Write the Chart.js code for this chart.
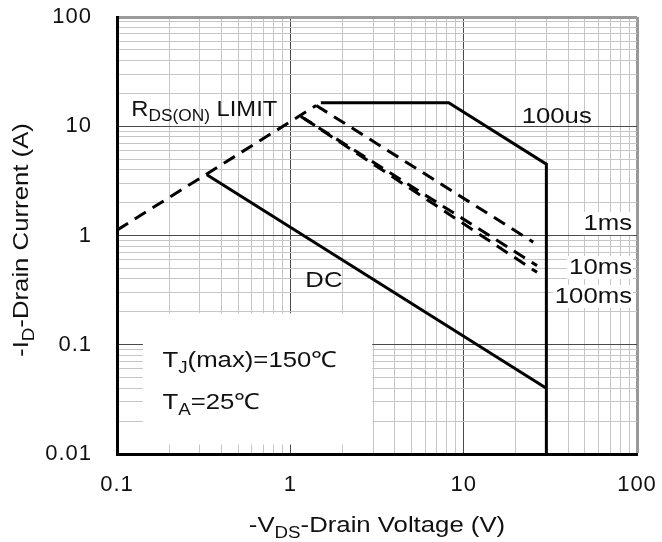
<!DOCTYPE html>
<html>
<head>
<meta charset="utf-8">
<script src="https://cdn.jsdelivr.net/npm/chart.js@4.4.1/dist/chart.umd.min.js"></script>
<style>
  html, body { margin: 0; padding: 0; background: #fff; }
  #soa { display: block; }
</style>
</head>
<body>
<canvas id="soa" width="662" height="542"></canvas>
<script>
// eixos (log-log)
const xDecades = [0.1, 1, 10, 100];
const yDecades = [0.01, 0.1, 1, 10, 100];
const xTickLabels = ['0.1', '1', '10', '100'];
const yTickLabels = ['0.01', '0.1', '1', '10', '100'];
const minorSteps = [1, 2, 3, 4, 5, 6, 7, 8, 9];

// curvas: -VDS (V) / -ID (A)
const rdsV = [0.1, 1.41];
const rdsI = [1.12, 15.5];
const us100V = [1.5, 8.2, 30, 30];
const us100I = [16.4, 16.4, 4.5, 0.01];
const ms1V = [1.41, 25.2];
const ms1I = [15.5, 0.87];
const ms10V = [1.15, 26.5];
const ms10I = [12.3, 0.53];
const ms100V = [1.2, 26.5];
const ms100I = [11.8, 0.46];
const dcV = [0.33, 30];
const dcI = [3.6, 0.04];

const FONT = '"Liberation Sans", Arial, sans-serif';
const STRETCH = 1.17; // o texto do original e mais largo que o Arial

function buildTicks(decades) {
  const out = [];
  decades.forEach((d, i) => {
    if (i === decades.length - 1) { out.push(d); return; }
    minorSteps.forEach(m => out.push(Number((m * d).toPrecision(3))));
  });
  return out;
}
const xTickValues = buildTicks(xDecades);
const yTickValues = buildTicks(yDecades);

function pts(xs, ys) {
  return xs.map((v, i) => ({ x: v, y: ys[i] }));
}

function serie(label, xs, ys, dashed) {
  return {
    label: label,
    data: pts(xs, ys),
    borderColor: '#000',
    borderWidth: 3,
    borderDash: dashed ? [13, 8] : [],
    pointRadius: 0,
    fill: false,
    tension: 0
  };
}

function gridColor(decades, c) {
  const v = c.tick.value;
  if (v === decades[decades.length - 1]) return '#9a9a9a';
  if (decades.includes(v)) return '#4a4a4a';
  return '#c6c6c6';
}
function gridWidth(decades, c) {
  return c.tick.value === decades[decades.length - 1] ? 3 : 1;
}

// texto com subscrito: parts = [[texto, sub?], ...]
function measureRich(ctx, parts, size, sx) {
  let w = 0;
  parts.forEach(p => {
    ctx.font = (p[1] ? Math.round(size * 0.72) : size) + 'px ' + FONT;
    w += ctx.measureText(p[0]).width;
  });
  return w * (sx || STRETCH);
}
function drawRich(ctx, parts, x, y, size, align, sx) {
  sx = sx || STRETCH;
  const w = measureRich(ctx, parts, size, sx);
  const x0 = align === 'right' ? x - w : (align === 'center' ? x - w / 2 : x);
  ctx.save();
  ctx.translate(x0, y);
  ctx.scale(sx, 1);
  ctx.textAlign = 'left';
  ctx.textBaseline = 'alphabetic';
  let cx = 0;
  parts.forEach(p => {
    ctx.font = (p[1] ? Math.round(size * 0.72) : size) + 'px ' + FONT;
    ctx.fillText(p[0], cx, p[1] ? size * 0.26 : 0);
    cx += ctx.measureText(p[0]).width;
  });
  ctx.restore();
  return w;
}

// anotacoes (posicao em unidades dos eixos)
const notes = [
  { parts: [['R', false], ['DS(ON)', true], [' LIMIT', false]], v: 0.121, i: 12.5, align: 'left', sx: 1.08 },
  { parts: [['100us', false]], v: 21.6, i: 10.7, align: 'left' },
  { parts: [['1ms', false]], v: 93.6, i: 1.12, align: 'right', bg: true },
  { parts: [['10ms', false]], v: 93.6, i: 0.445, align: 'right', bg: true },
  { parts: [['100ms', false]], v: 93.6, i: 0.241, align: 'right', bg: true },
  { parts: [['DC', false]], v: 1.22, i: 0.336, align: 'left' },
  { parts: [['T', false], ['J', true], ['(max)=150\u2103', false]], v: 0.183, i: 0.0622, align: 'left' },
  { parts: [['T', false], ['A', true], ['=25\u2103', false]], v: 0.183, i: 0.0258, align: 'left' }
];
const infoBox = { v0: 0.141, v1: 2.97, i0: 0.0122, i1: 0.194 };

const soaPlugin = {
  id: 'soaPlugin',
  beforeDraw(chart) {
    chart.ctx.letterSpacing = '1px';
  },
  beforeDatasetsDraw(chart) {
    const { ctx, scales: { x, y } } = chart;
    ctx.save();
    ctx.fillStyle = '#fff';
    const l = x.getPixelForValue(infoBox.v0), r = x.getPixelForValue(infoBox.v1);
    const t = y.getPixelForValue(infoBox.i1), b = y.getPixelForValue(infoBox.i0);
    ctx.fillRect(l, t, r - l, b - t);
    ctx.restore();
  },
  afterDatasetsDraw(chart) {
    const { ctx, scales: { x, y }, chartArea } = chart;
    ctx.save();
    ctx.letterSpacing = '0px';
    ctx.fillStyle = '#111';
    notes.forEach(n => {
      const px = x.getPixelForValue(n.v), py = y.getPixelForValue(n.i);
      if (n.bg) {
        const w = measureRich(ctx, n.parts, 22, n.sx);
        ctx.fillStyle = '#fff';
        ctx.fillRect(px - w - 2, py - 18, w + 3, 23);
        ctx.fillStyle = '#111';
      }
      drawRich(ctx, n.parts, px, py, 22, n.align, n.sx);
    });

    // titulos dos eixos
    const cx = (chartArea.left + chartArea.right) / 2;
    drawRich(ctx, [['-V', false], ['DS', true], ['-Drain Voltage (V)', false]], cx, 532, 22, 'center');
    ctx.translate(28, 240);
    ctx.rotate(-Math.PI / 2);
    drawRich(ctx, [['-I', false], ['D', true], ['-Drain Current (A)', false]], 0, 0, 22, 'center');
    ctx.restore();
  }
};

const ctx = document.getElementById('soa').getContext('2d');

new Chart(ctx, {
  type: 'line',
  data: {
    datasets: [
      serie('RDS(ON) LIMIT', rdsV, rdsI, true),
      serie('100us', us100V, us100I, false),
      serie('1ms', ms1V, ms1I, true),
      serie('10ms', ms10V, ms10I, true),
      serie('100ms', ms100V, ms100I, true),
      serie('DC', dcV, dcI, false)
    ]
  },
  options: {
    responsive: false,
    animation: false,
    devicePixelRatio: 1,
    layout: { padding: { left: 0, top: 17, right: 25, bottom: 0 } },
    plugins: { legend: { display: false }, tooltip: { enabled: false } },
    scales: {
      x: {
        type: 'logarithmic',
        min: 0.1,
        max: 100,
        afterBuildTicks: s => { s.ticks = xTickValues.map(v => ({ value: v })); },
        afterFit: s => { s.height = 88; s.paddingLeft = 0; s.paddingRight = 0; },
        ticks: {
          autoSkip: false,
          maxRotation: 0,
          padding: 18,
          color: '#111',
          font: { family: FONT, size: 22 },
          callback: v => { const k = xDecades.indexOf(v); return k >= 0 ? xTickLabels[k] : ''; }
        },
        grid: {
          drawTicks: false,
          color: c => gridColor(xDecades, c),
          lineWidth: c => gridWidth(xDecades, c)
        },
        border: { display: true, color: '#000', width: 3 }
      },
      y: {
        type: 'logarithmic',
        min: 0.01,
        max: 100,
        afterBuildTicks: s => { s.ticks = yTickValues.map(v => ({ value: v })); },
        afterFit: s => { s.width = 117; s.paddingTop = 0; s.paddingBottom = 0; },
        ticks: {
          autoSkip: false,
          padding: 25,
          color: '#111',
          font: { family: FONT, size: 22 },
          callback: v => { const k = yDecades.indexOf(v); return k >= 0 ? yTickLabels[k] : ''; }
        },
        grid: {
          drawTicks: false,
          color: c => gridColor(yDecades, c),
          lineWidth: c => gridWidth(yDecades, c)
        },
        border: { display: true, color: '#000', width: 3 }
      }
    }
  },
  plugins: [soaPlugin]
});
</script>
</body>
</html>
